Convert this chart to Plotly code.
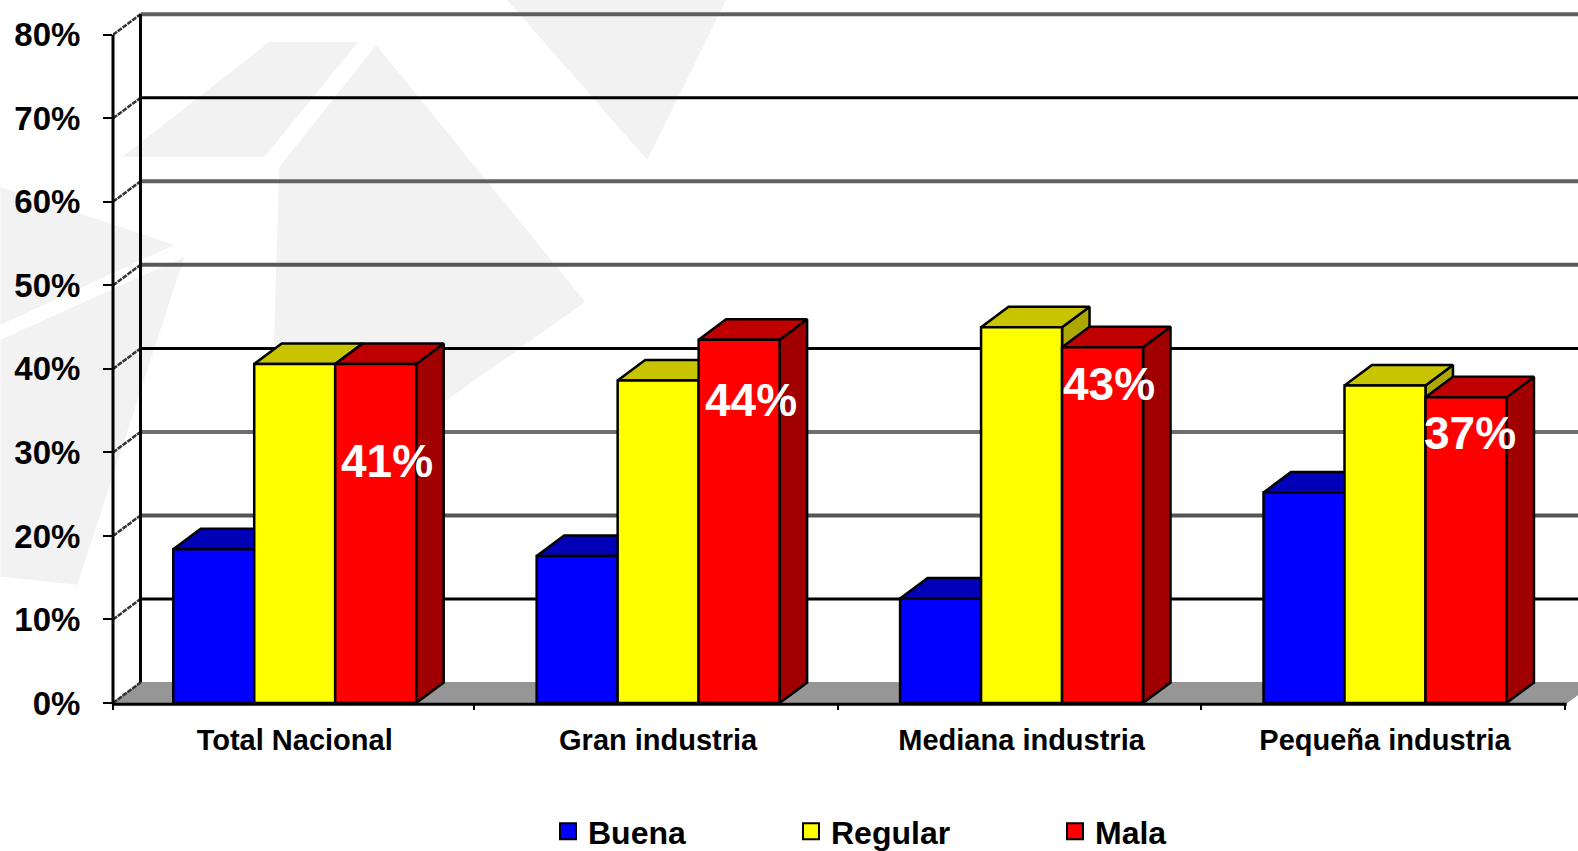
import plotly.graph_objects as go

# Data
categories = ["Total Nacional", "Gran industria", "Mediana industria", "Pequeña industria"]
buena = [18.4, 17.6, 12.5, 25.2]
regular = [40.6, 38.6, 45, 38]
mala = [40.6, 43.5, 42.6, 36.6]
series_names = ["Buena", "Regular", "Mala"]
y_ticks = [0, 10, 20, 30, 40, 50, 60, 70, 80]

# Colours per series: front, top, side
front_colors = ["#0000FF", "#FFFF00", "#FF0000"]
top_colors = ["#0000B8", "#C8C400", "#C00000"]
side_colors = ["#00008C", "#ACA800", "#A00000"]
grid_colors = ["#000000", "#555555", "#6E6E6E", "#000000", "#585858", "#626262", "#000000", "#5E5E5E"]

# Layout in pixels, everything else is worked out from these
W, H = 1578, 851
axis_left = 112.7
zero_px = 703.3
px_per_cat = 363.5
px_per_pct = (703 - 34.5) / 80
x_top = (W - axis_left) / px_per_cat
y_top = zero_px / px_per_pct
depth_x = 27.5 / px_per_cat
depth_y = 20.5 / px_per_pct
bar_w = 81 / px_per_cat
font = "Liberation Sans"


def paper_x(px):
    return (px - axis_left) / (W - axis_left)


def paper_y(px):
    return (zero_px - px) / zero_px


# Faint watermark behind the chart
watermark = [
    [(507, 0), (726, 0), (647, 160)],
    [(269, 42), (358, 42), (264, 157), (122, 157)],
    [(376, 45), (585, 302), (440, 405), (268, 530), (279, 167)],
    [(0, 187), (174, 245), (0, 325)],
    [(184, 257), (0, 340), (0, 577), (77, 585)],
]

fig = go.Figure()


def axes(n):
    return {"xaxis": "x" if n == 0 else f"x{n + 1}", "yaxis": "y" if n == 0 else f"y{n + 1}"}


def polygons(polys, fill, n=0, line="#000000", width=2.5):
    xs, ys = [], []
    for p in polys:
        xs += [pt[0] for pt in p] + [p[0][0], None]
        ys += [pt[1] for pt in p] + [p[0][1], None]
    fig.add_trace(go.Scatter(x=xs, y=ys, mode="lines", fill="toself", fillcolor=fill,
                             line=dict(color=line, width=width), hoverinfo="skip",
                             showlegend=False, **axes(n)))


# Floor
floor_end = len(categories)
polygons([[(0, 0), (depth_x, depth_y), (floor_end + depth_x, depth_y), (floor_end, 0)]],
         "#969696", line="#969696", width=1)

# Back wall lines and the little connectors to the front axis
for t, c in zip(y_ticks[1:], grid_colors):
    fig.add_trace(go.Scatter(x=[depth_x, x_top], y=[t + depth_y, t + depth_y], mode="lines",
                             line=dict(color=c, width=4 if c != "#000000" else 3),
                             hoverinfo="skip", showlegend=False))
for t in y_ticks:
    fig.add_trace(go.Scatter(x=[0, depth_x], y=[t, t + depth_y], mode="lines",
                             line=dict(color="#333333", width=2.5, dash="5px,1px"),
                             hoverinfo="skip", showlegend=False))
fig.add_trace(go.Scatter(x=[depth_x, depth_x], y=[depth_y, y_ticks[-1] + depth_y], mode="lines",
                         line=dict(color="#000000", width=3), hoverinfo="skip", showlegend=False))

# Bars: top and side of a series go under the front of that series,
# each series gets its own overlay so the next one can cover it
for s, values in enumerate([buena, regular, mala]):
    tops, sides = [], []
    centers = [i + 0.5 + (s - 1) * bar_w for i in range(len(categories))]
    for c, v in zip(centers, values):
        l, r = c - bar_w / 2, c + bar_w / 2
        tops.append([(l, v), (r, v), (r + depth_x, v + depth_y), (l + depth_x, v + depth_y)])
        sides.append([(r, 0), (r + depth_x, depth_y), (r + depth_x, v + depth_y), (r, v)])
    polygons(sides, side_colors[s], s)
    polygons(tops, top_colors[s], s)
    fig.add_trace(go.Bar(x=centers, y=values, width=bar_w, name=series_names[s],
                         marker=dict(color=front_colors[s], line=dict(color="#000000", width=2.5)),
                         showlegend=False, **axes(s + 1)))

# Legend entries, one legend each so they can sit where the original has them
legend_px = [568, 811, 1075]
legend_layout = {}
for s, name in enumerate(series_names):
    key = "legend" if s == 0 else f"legend{s + 1}"
    fig.add_trace(go.Scatter(x=[None], y=[None], mode="markers", name=name, legend=key,
                             marker=dict(symbol="square", size=17, color=front_colors[s],
                                         line=dict(color="#000000", width=2))))
    legend_layout[key] = dict(xref="container", yref="container", x=(legend_px[s] - 20) / W,
                              y=(H - 804) / H,
                              xanchor="left", yanchor="top", bgcolor="rgba(0,0,0,0)",
                              font=dict(family=font, size=32, color="#000000", weight="bold"),
                              itemclick=False, itemdoubleclick=False)

# Data labels on the red bars
label_y = [29, 36.3, 38.2, 32.3]
label_dx = [11.5, 12, 6.5, 4.5]
for i, v in enumerate(mala):
    fig.add_annotation(x=i + 0.5 + bar_w + label_dx[i] / px_per_cat, y=label_y[i], text=f"{round(v)}%",
                       showarrow=False, font=dict(family=font, size=46, color="#FFFFFF", weight="bold"))

tick_font = dict(family=font, size=33, color="#000000", weight="bold")
boundary_ticks = [0] + [i - 0.006 for i in range(1, len(categories) + 1)]
layout_axes = dict(
    xaxis=dict(range=[0, x_top], tickmode="array", tickvals=[i + 0.5 for i in range(len(categories))],
               ticktext=categories, ticks="", showgrid=False, zeroline=False, showline=False,
               tickfont=dict(family=font, size=29, color="#000000", weight="bold"), ticklabelstandoff=17,
               minor=dict(tickmode="array", tickvals=boundary_ticks, ticks="outside", ticklen=6, tickwidth=2,
                          tickcolor="#000000", showgrid=False)),
    yaxis=dict(range=[0, y_top], tickmode="array", tickvals=y_ticks, ticktext=[f"{t}%" for t in y_ticks],
               ticks="outside", ticklen=9, tickwidth=2, tickcolor="#000000", showgrid=False, zeroline=False,
               showline=False, tickfont=tick_font, ticklabelstandoff=16),
)
for n in [2, 3, 4]:
    layout_axes[f"xaxis{n}"] = dict(range=[0, x_top], overlaying="x", visible=False)
    layout_axes[f"yaxis{n}"] = dict(range=[0, y_top], overlaying="y", visible=False)

shapes = [dict(type="path", xref="paper", yref="paper", layer="below", fillcolor="#F2F2F2",
               line=dict(width=0),
               path="M" + "L".join(f"{paper_x(a)},{paper_y(b)}" for a, b in p) + "Z") for p in watermark]
# Axis lines stop where the axes do, not at the edge of the plot area
shapes.append(dict(type="line", xref="paper", yref="paper", x0=0, x1=0, y0=paper_y(704.5),
                   y1=y_ticks[-1] / y_top, line=dict(color="#000000", width=3)))
shapes.append(dict(type="line", xref="paper", yref="paper", x0=0, x1=floor_end / x_top, y0=paper_y(704.5),
                   y1=paper_y(704.5), line=dict(color="#000000", width=3)))

fig.update_layout(
    width=W, height=H, margin=dict(l=axis_left, r=0, t=0, b=H - zero_px, autoexpand=False),
    paper_bgcolor="#FFFFFF", plot_bgcolor="rgba(0,0,0,0)", shapes=shapes, hovermode=False,
    **layout_axes, **legend_layout,
)

fig.write_html("out.html", config={"displayModeBar": False},
               post_script="document.body.style.margin='0';document.body.style.overflow='hidden';")
